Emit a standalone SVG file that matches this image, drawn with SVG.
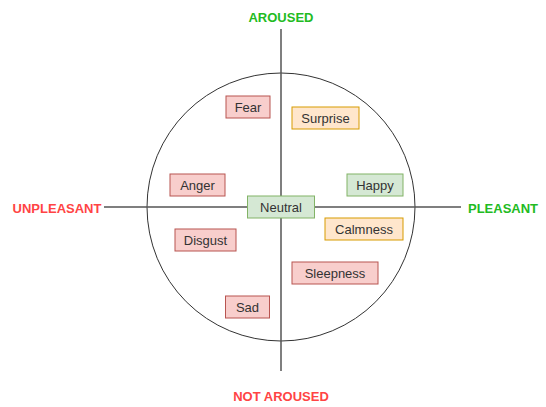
<svg xmlns="http://www.w3.org/2000/svg" width="546" height="407" viewBox="0 0 546 407">
<style>
.box text{font-family:"Liberation Sans",Arial,sans-serif;font-size:13px;fill:#333333;text-anchor:middle;dominant-baseline:central}
.red rect{fill:#f8cecc;stroke:#b85450;stroke-width:1}
.green rect{fill:#d5e8d4;stroke:#82b366;stroke-width:1}
.orange rect{fill:#ffe6cc;stroke:#d79b00;stroke-width:1}
.axis{font-family:"Liberation Sans",Arial,sans-serif;font-size:13px;font-weight:bold;dominant-baseline:central}
.pos{fill:#22bb22}
.neg{fill:#ff4444}
.line{stroke:#555555;stroke-width:1.5;fill:none}
</style>
<rect width="546" height="407" fill="#ffffff"/>
<g id="connectors">
<circle cx="281" cy="207" r="134" fill="none" stroke="#333333" stroke-width="1"/>
<line class="line" x1="281" y1="29" x2="281" y2="371"/>
<line class="line" x1="104" y1="207" x2="461" y2="207"/>
</g>
<g id="aroused"><text class="axis pos" x="281" y="17" text-anchor="middle">AROUSED</text></g>
<g id="not-aroused"><text class="axis neg" x="281" y="396" text-anchor="middle">NOT AROUSED</text></g>
<g id="unpleasant"><text class="axis neg" x="57" y="208" text-anchor="middle">UNPLEASANT</text></g>
<g id="pleasant"><text class="axis pos" x="503" y="208" text-anchor="middle">PLEASANT</text></g>
<g id="fear" class="box red"><rect x="226" y="96" width="44" height="22"/><text x="248" y="107">Fear</text></g>
<g id="surprise" class="box orange"><rect x="292" y="107" width="67" height="22"/><text x="325.5" y="118">Surprise</text></g>
<g id="anger" class="box red"><rect x="170" y="174" width="55" height="22"/><text x="197.5" y="185">Anger</text></g>
<g id="happy" class="box green"><rect x="347" y="174" width="56" height="22"/><text x="375" y="185">Happy</text></g>
<g id="neutral" class="box green"><rect x="247.5" y="196" width="67" height="22"/><text x="281" y="207">Neutral</text></g>
<g id="calmness" class="box orange"><rect x="325" y="218" width="78" height="22"/><text x="364" y="229">Calmness</text></g>
<g id="disgust" class="box red"><rect x="175" y="229" width="61" height="22"/><text x="205.5" y="240">Disgust</text></g>
<g id="sleepness" class="box red"><rect x="292" y="262" width="86" height="22"/><text x="335" y="273">Sleepness</text></g>
<g id="sad" class="box red"><rect x="225.5" y="296" width="44" height="22"/><text x="247.5" y="307">Sad</text></g>
</svg>
